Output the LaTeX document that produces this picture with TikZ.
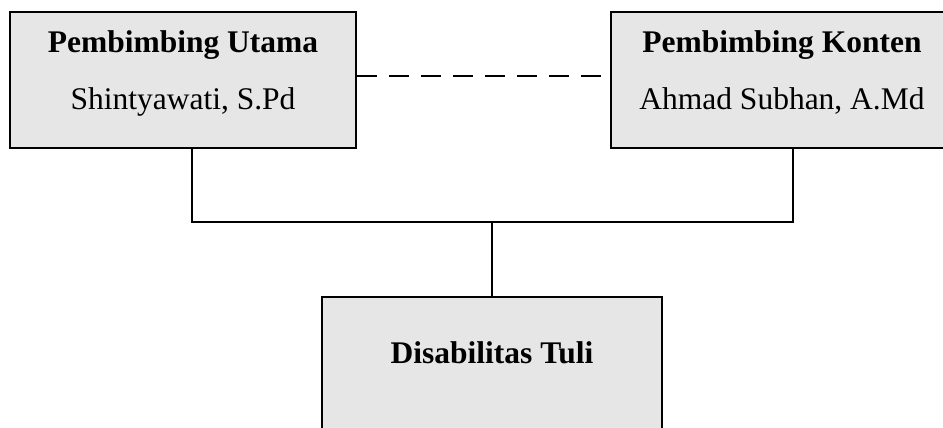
\documentclass[tikz,border=0pt]{standalone}
\usepackage{fontspec}
\setmainfont{Liberation Serif}
\definecolor{boxgray}{RGB}{230,230,230}
\begin{document}
\begin{tikzpicture}[x=1pt,y=-1pt,
  box/.style={draw=black, line width=2.2pt, fill=boxgray, inner sep=0pt},
  conn/.style={line width=2.2pt, draw=black},
  titletext/.style={font=\fontsize{31.5}{38}\selectfont\bfseries, anchor=base, inner sep=0pt},
  subtext/.style={font=\fontsize{31.5}{38}\selectfont, anchor=base, inner sep=0pt}]
\useasboundingbox (0,0) rectangle (943,428);
\clip (0,0) rectangle (943,428);
\node[box, minimum width=346pt, minimum height=136pt] (L) at (183,80) {};
\node[box, minimum width=342pt, minimum height=136pt] (R) at (782,80) {};
\node[box, minimum width=340pt, minimum height=160pt] (B) at (492,377) {};
\node[titletext] (Lt) at (183,53) {Pembimbing Utama};
\node[subtext] (Ls) at (183,110) {Shintyawati, S.Pd};
\node[titletext] (Rt) at (782,53) {Pembimbing Konten};
\node[subtext] (Rs) at (782,110) {Ahmad Subhan, A.Md};
\node[titletext] (Bt) at (492,363) {Disabilitas Tuli};
\draw[conn, dash pattern=on 20pt off 12pt] (L.east |- 0,76) -- (R.west |- 0,76);
\coordinate (jl) at (192,222);
\coordinate (jr) at (793,222);
\coordinate (jc) at (492,222);
\draw[conn] (L.south -| jl) -- (jl) -- (jr) -- (R.south -| jr);
\draw[conn] (jc) -- (B.north);
\end{tikzpicture}
\end{document}
